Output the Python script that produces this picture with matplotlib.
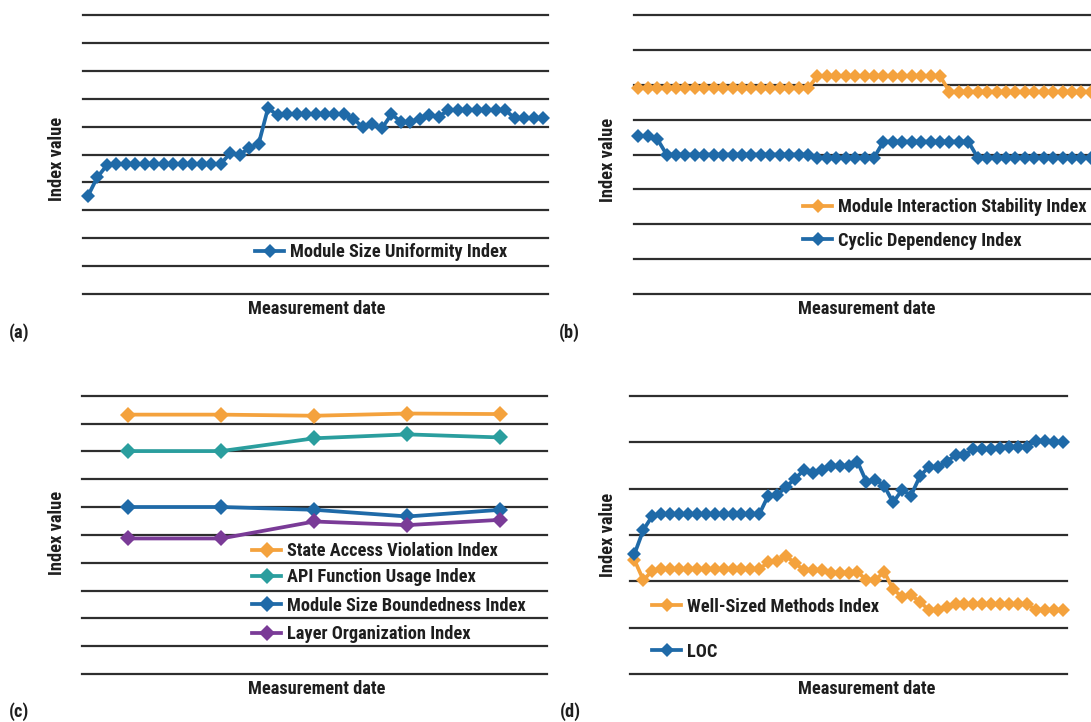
import matplotlib
matplotlib.use("Agg")
import matplotlib.pyplot as plt
from matplotlib import font_manager as fm
from matplotlib.textpath import TextPath
from matplotlib.font_manager import FontProperties

W, H = 1091, 722

# Pick the narrowest bold sans face that is installed.
names = {f.name for f in fm.fontManager.ttflist}
files = [f.fname for f in fm.fontManager.ttflist]
FAMILY, STRETCH = 'DejaVu Sans', 'normal'
for cand in ['Liberation Sans Narrow', 'Roboto Condensed', 'Open Sans Condensed',
             'DejaVu Sans Condensed']:
    if cand in names:
        FAMILY = cand
        break
else:
    if any('DejaVuSansCondensed-Bold' in f for f in files):
        STRETCH = 'condensed'
    elif 'Liberation Sans' in names:
        FAMILY = 'Liberation Sans'

plt.rcParams['font.family'] = [FAMILY, 'DejaVu Sans']
plt.rcParams['font.weight'] = 'bold'
plt.rcParams['font.stretch'] = STRETCH

# Scale the text so a legend label spans its printed width.
_probe = TextPath((0, 0), 'Module Size Uniformity Index', size=100,
                  prop=FontProperties(family=FAMILY, weight='bold', stretch=STRETCH))
_w100 = _probe.get_extents().width  # in points at size 100 -> pixels at dpi 72
FS = 216 / (_w100 / 100 * 100 / 72)
FS = min(FS, 14)

BLUE = '#1f6aa8'
ORANGE = '#f4a23d'
TEAL = '#2a9e9e'
PURPLE = '#7a3b97'
GRID = '#2e2e2e'
TXT = '#1e1e1e'

# (a) module size uniformity, 49 measurements
size_uniformity = [
    3.50, 4.18, 4.61, 4.66, 4.66, 4.66, 4.66, 4.66, 4.66, 4.66,
    4.66, 4.66, 4.66, 4.66, 4.66, 5.04, 4.98, 5.24, 5.37, 6.67,
    6.40, 6.45, 6.45, 6.45, 6.45, 6.45, 6.45, 6.45, 6.28, 5.97,
    6.10, 5.94, 6.44, 6.18, 6.16, 6.28, 6.40, 6.36, 6.59, 6.59,
    6.59, 6.59, 6.59, 6.59, 6.59, 6.30, 6.30, 6.30, 6.30,
]

# (b) interaction stability and cyclic dependency
interaction_stability = [
    5.90, 5.90, 5.90, 5.90, 5.90, 5.90, 5.90, 5.90, 5.90, 5.90,
    5.90, 5.90, 5.90, 5.90, 5.90, 5.90, 5.90, 5.90, 5.90, 6.25,
    6.25, 6.25, 6.25, 6.25, 6.25, 6.25, 6.25, 6.25, 6.25, 6.25,
    6.25, 6.25, 6.25, 5.80, 5.80, 5.80, 5.80, 5.80, 5.80, 5.80,
    5.80, 5.80, 5.80, 5.80, 5.80, 5.80, 5.80, 5.80, 5.80,
]
cyclic_dependency = [
    4.53, 4.53, 4.45, 4.00, 4.00, 4.00, 4.00, 4.00, 4.00, 4.00,
    4.00, 4.00, 4.00, 4.00, 4.00, 4.00, 4.00, 4.00, 4.00, 3.91,
    3.91, 3.91, 3.91, 3.91, 3.91, 3.91, 4.37, 4.37, 4.37, 4.37,
    4.37, 4.37, 4.37, 4.37, 4.37, 4.37, 3.91, 3.91, 3.91, 3.91,
    3.91, 3.91, 3.91, 3.91, 3.91, 3.91, 3.91, 3.91, 3.91,
]

# (c) five measurement dates
state_access = [9.32, 9.32, 9.28, 9.36, 9.34]
api_usage = [8.01, 8.01, 8.47, 8.61, 8.50]
size_boundedness = [6.00, 6.00, 5.90, 5.66, 5.90]
layer_organization = [4.87, 4.87, 5.48, 5.35, 5.54]

# (d) well-sized methods and lines of code
well_sized_methods = [
    2.46, 2.03, 2.23, 2.27, 2.27, 2.27, 2.27, 2.27, 2.27, 2.27,
    2.27, 2.27, 2.27, 2.27, 2.27, 2.41, 2.43, 2.55, 2.39, 2.25,
    2.25, 2.25, 2.19, 2.19, 2.19, 2.21, 2.03, 2.03, 2.21, 1.83,
    1.67, 1.71, 1.56, 1.39, 1.39, 1.44, 1.51, 1.51, 1.51, 1.51,
    1.51, 1.51, 1.51, 1.51, 1.51, 1.39, 1.39, 1.39, 1.39,
]
loc = [
    2.59, 3.11, 3.41, 3.45, 3.45, 3.45, 3.45, 3.45, 3.45, 3.45,
    3.45, 3.45, 3.45, 3.45, 3.45, 3.85, 3.86, 4.04, 4.21, 4.40,
    4.33, 4.41, 4.49, 4.49, 4.49, 4.58, 4.15, 4.19, 4.06, 3.70,
    3.97, 3.85, 4.26, 4.47, 4.46, 4.58, 4.72, 4.72, 4.85, 4.85,
    4.85, 4.87, 4.90, 4.90, 4.90, 5.03, 5.03, 5.01, 5.01,
]


def px_axes(left, top, right, bottom):
    return fig.add_axes([left / W, 1 - bottom / H, (right - left) / W, (bottom - top) / H])


def style(ax, ymax, xmax):
    ax.set_xlim(-0.5, xmax - 0.5)
    ax.set_ylim(0, ymax)
    for v in range(ymax + 1):
        ax.axhline(v, color=GRID, lw=1.6, zorder=0, clip_on=False)
    for s in ax.spines.values():
        s.set_visible(False)
    ax.set_xticks([])
    ax.set_yticks([])
    ax.patch.set_alpha(0)


def series(ax, y, color, label, ms=6.8):
    ax.plot(range(len(y)), y, color=color, lw=2.7, marker='D', ms=ms,
            mew=0, label=label, zorder=3, clip_on=False)


def legend(ax, x, ycenters, hl_px=29):
    """One legend per entry so each row sits at its own height."""
    handles, labels = ax.get_legend_handles_labels()
    for i, (h, l) in enumerate(zip(handles, labels)):
        lg = ax.legend([h], [l], loc='center left',
                       bbox_to_anchor=(x / W, 1 - ycenters[i] / H),
                       bbox_transform=fig.transFigure, frameon=False,
                       fontsize=FS, handlelength=hl_px / (FS * 100 / 72),
                       handletextpad=0.3, borderpad=0, borderaxespad=0,
                       labelcolor=TXT)
        if i < len(handles) - 1:
            ax.add_artist(lg)


def ftext(x, y, s, **kw):
    fig.text(x / W, 1 - y / H, s, ha='center', va='center', fontsize=FS,
             fontweight='bold', color=TXT, **kw)


fig = plt.figure(figsize=(W / 100, H / 100), dpi=100)

# (a)
ax = px_axes(83, 15, 548, 294)
style(ax, 10, len(size_uniformity))
series(ax, size_uniformity, BLUE, 'Module Size Uniformity Index')
legend(ax, 255, [252])

# (b)
ax = px_axes(633.6, 15, 1095.6, 294)
style(ax, 8, len(interaction_stability))
series(ax, interaction_stability, ORANGE, 'Module Interaction Stability Index')
series(ax, cyclic_dependency, BLUE, 'Cyclic Dependency Index')
legend(ax, 803, [207, 240.7])

# (c)
ax = px_axes(81.7, 395.7, 547, 674)
style(ax, 10, len(state_access))
series(ax, state_access, ORANGE, 'State Access Violation Index', ms=8)
series(ax, api_usage, TEAL, 'API Function Usage Index', ms=8)
series(ax, size_boundedness, BLUE, 'Module Size Boundedness Index', ms=8)
series(ax, layer_organization, PURPLE, 'Layer Organization Index', ms=8)
legend(ax, 252, [551, 577.3, 605.7, 634])

# (d)
ax = px_axes(630, 395.7, 1067, 674.3)
style(ax, 6, len(loc))
series(ax, well_sized_methods, ORANGE, 'Well-Sized Methods Index')
series(ax, loc, BLUE, 'LOC')
legend(ax, 652, [606.7, 651.7])

# axis titles
for x, y in [(56.7, 159), (608, 160), (56.7, 533), (608.3, 535)]:
    ftext(x, y, 'Index value', rotation=90)
for x, y in [(317, 309), (867, 309), (316.7, 689), (866.7, 689)]:
    ftext(x, y, 'Measurement date')

# panel tags
for x, y, s in [(19, 333, '(a)'), (569, 333, '(b)'), (19, 712, '(c)'), (570, 712, '(d)')]:
    ftext(x, y, s)

fig.savefig('out.png', dpi=100)
